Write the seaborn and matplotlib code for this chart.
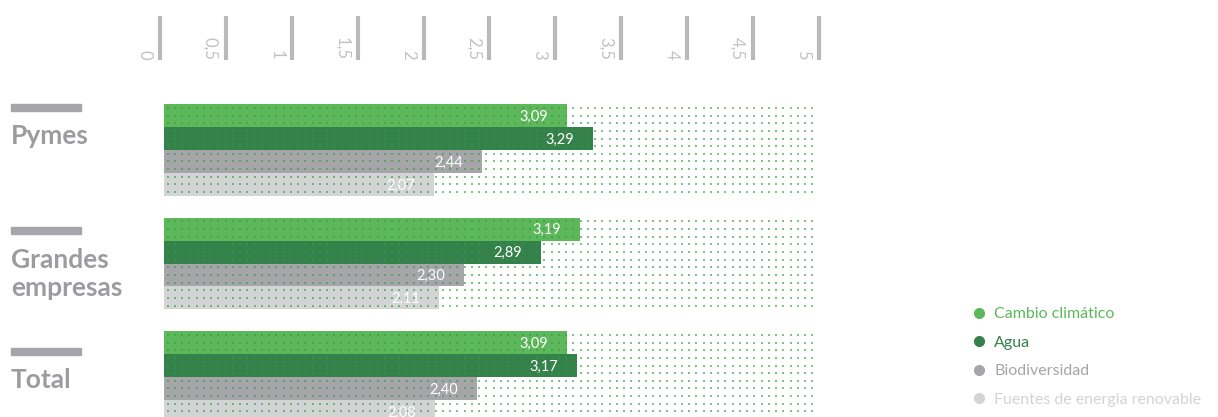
import numpy as np
import pandas as pd
import matplotlib
matplotlib.use('Agg')
import matplotlib.pyplot as plt
from matplotlib.lines import Line2D
from matplotlib.patches import Rectangle
import seaborn as sns

# -----------------------------------------------------------------------------
# Data
# -----------------------------------------------------------------------------
grupos = ['Pymes', 'Grandes empresas', 'Total']
grupo_labels = ['Pymes', 'Grandes\nempresas', 'Total']
series = ['Cambio climático', 'Agua', 'Biodiversidad', 'Fuentes de energia renovable']
pymes = [3.09, 3.29, 2.44, 2.07]
grandes = [3.19, 2.89, 2.30, 2.11]
total = [3.09, 3.17, 2.40, 2.08]
ticks = [0, 0.5, 1, 1.5, 2, 2.5, 3, 3.5, 4, 4.5, 5]
tick_labels = ['0', '0,5', '1', '1,5', '2', '2,5', '3', '3,5', '4', '4,5', '5']

colores = ['#5cb85a', '#35814b', '#a6a6aa', '#d3d4d6']
gris_texto = '#9c9ca0'
gris_regla = '#b9b9bd'

df = pd.DataFrame({
    'grupo': np.repeat(grupos, len(series)),
    'serie': series * len(grupos),
    'valor': pymes + grandes + total,
})

# -----------------------------------------------------------------------------
# Figure
# -----------------------------------------------------------------------------
sns.set_style('white')
plt.rcParams['font.family'] = ['Lato', 'DejaVu Sans']

W, H = 1218, 417
fig = plt.figure(figsize=(W / 100, H / 100), dpi=100)

x0_px, px_unit = 164, 130.4       # x=0 position and pixels per unit
group_px, c0_px = 113.5, 150      # group spacing and first group centre

ax = fig.add_axes([0, 0, 1, 1])
sns.barplot(data=df, y='grupo', x='valor', hue='serie', hue_order=series,
            order=grupos, orient='h', palette=colores, saturation=1,
            width=0.81, legend=False, ax=ax, zorder=2, linewidth=0)
ax.set_xlim(-x0_px / px_unit, (W - x0_px) / px_unit)
ax.set_ylim(2 + (H - (c0_px + 2 * group_px)) / group_px, -c0_px / group_px)
ax.axis('off')

# dotted background grid
half = 0.405
xs = (np.arange(90) + 0.5) * 5 / 90
for c in range(len(grupos)):
    ys = c - half + (np.arange(12) + 0.5) * (2 * half / 12)
    gx, gy = np.meshgrid(xs, ys)
    ax.scatter(gx.ravel(), gy.ravel(), marker='s', s=3.5, linewidths=0,
               color='#2f9e38', alpha=0.6, zorder=3)

# value labels inside bars
off = 19 / px_unit
for cont in ax.containers:
    for bar in cont:
        v = bar.get_width()
        ax.text(v - off, bar.get_y() + bar.get_height() / 2 + 0.01,
                f'{v:.2f}'.replace('.', ','), color='white', fontsize=10.5,
                ha='right', va='center', zorder=4)

# category labels with grey marks
label_y = [136, 274, 380]
mark_y = [104, 227, 348]
for lbl, ly, my in zip(grupo_labels, label_y, mark_y):
    fig.patches.append(Rectangle((11 / W, 1 - (my + 7) / H), 70 / W, 7 / H,
                                 transform=fig.transFigure, color='#a6a6aa'))
    fig.text(11 / W, 1 - ly / H, lbl, color=gris_texto, fontsize=19,
             fontweight='bold', ha='left', va='center', linespacing=1.25)

# top ruler
axr = fig.add_axes([160 / W, 1 - 60 / H, 659 / W, 44 / H])
axr.set_xlim(0, 5)
axr.set_ylim(0, 1)
axr.axis('off')
axr.vlines(ticks, 0, 1, color=gris_regla, linewidth=3, clip_on=False)
for t, tl in zip(ticks, tick_labels):
    axr.annotate(tl, xy=(t, 0), xytext=(-5.5, 0), textcoords='offset points',
                 rotation=-90, ha='right', va='bottom', color='#c2c2c6',
                 fontsize=12)

# legend
handles = [Line2D([], [], marker='o', ls='', color=c, markersize=7) for c in colores]
fig.legend(handles, series, loc='upper left',
           bbox_to_anchor=(971 / W, 1 - 307 / H), frameon=False,
           fontsize=11.5, labelcolor=colores, handlelength=1,
           handletextpad=0.45, labelspacing=0.9, borderpad=0,
           borderaxespad=0)

fig.savefig('out.png', dpi=100)
